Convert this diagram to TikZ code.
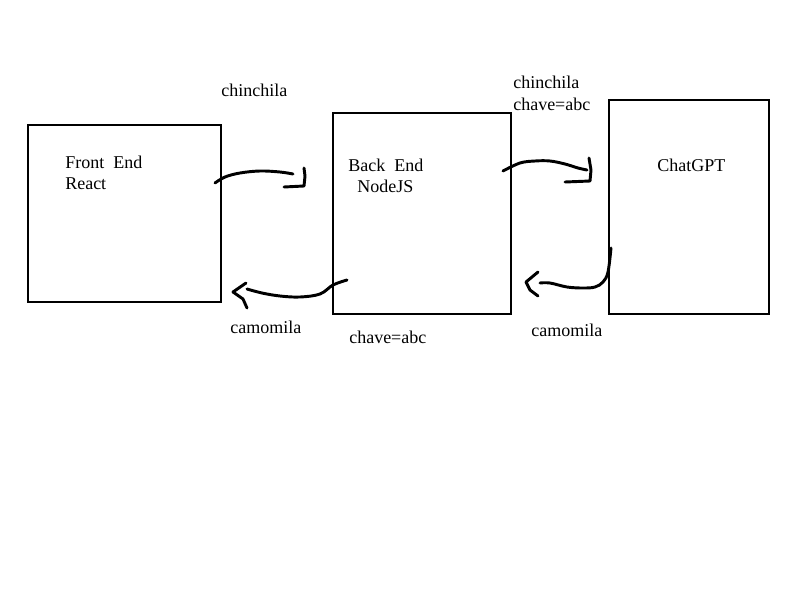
\documentclass[tikz,border=0pt]{standalone}
\usepackage{fontspec}
\setmainfont{Liberation Serif}
\tikzset{
    box/.style={draw, line width=1.5pt, inner sep=0pt, anchor=north west},
    txt/.style={inner sep=0pt, anchor=base west, font=\fontsize{13.5}{16}\selectfont},
    scribble/.style={line width=2.2pt, line cap=round, line join=round},
}
\begin{document}
\begin{tikzpicture}[x=0.75pt, y=-0.75pt]
    \useasboundingbox (0,0) rectangle (800,600);

    % boxes
    \node [box, minimum width=144.75pt, minimum height=132.75pt] (front) at (27,124) {};
    \node [box, minimum width=133.5pt, minimum height=150.75pt] (back) at (332,112) {};
    \node [box, minimum width=120pt, minimum height=160.5pt] (gpt) at (608,99) {};

    % box labels
    \node [txt] (frontA) at (65,168) {Front~~End};
    \node [txt] (frontB) at (65,189) {React};
    \node [txt] (backA) at (348,171) {Back~~End};
    \node [txt] (backB) at (357,192) {NodeJS};
    \node [txt] (gptA) at (657,171) {ChatGPT};

    % flow labels
    \node [txt] (req1) at (221,96) {chinchila};
    \node [txt] (req2) at (513,88) {chinchila};
    \node [txt] (key2) at (513,110) {chave=abc};
    \node [txt] (res1) at (230,333) {camomila};
    \node [txt] (key1) at (349,343) {chave=abc};
    \node [txt] (res2) at (531,336) {camomila};

    % arrow ends
    \coordinate (fe-out) at (215,183);
    \coordinate (be-in) at (293,174);
    \coordinate (be-out) at (503,171);
    \coordinate (gpt-in) at (587,170);
    \coordinate (gpt-out) at (611,248);
    \coordinate (be-back) at (540,283);
    \coordinate (be-ret) at (347,280);
    \coordinate (fe-in) at (247,289);

    % front -> back
    \draw [scribble] plot [smooth, tension=0.6] coordinates {(fe-out) (225,177) (240,173) (260,171) (280,172) (be-in)};
    \draw [scribble] (304,168) -- (305,176) -- (304,186) -- (284,187);

    % back -> chatgpt
    \draw [scribble] plot [smooth, tension=0.6] coordinates {(be-out) (520,163) (535,161) (550,161) (565,164) (578,168) (gpt-in)};
    \draw [scribble] (589,158) -- (591,170) -- (590,181) -- (565,182);

    % chatgpt -> back
    \draw [scribble] plot [smooth, tension=0.6] coordinates {(gpt-out) (608,272) (603,282) (595,287) (583,288) (567,287) (550,283) (be-back)};
    \draw [scribble] (538,272) -- (526,282) -- (530,290) -- (538,296);

    % back -> front
    \draw [scribble] plot [smooth, tension=0.6] coordinates {(be-ret) (333,285) (320,294) (300,297) (280,296) (262,293) (fe-in)};
    \draw [scribble] (246,283) -- (233,292) -- (243,299) -- (247,308);

\end{tikzpicture}
\end{document}
